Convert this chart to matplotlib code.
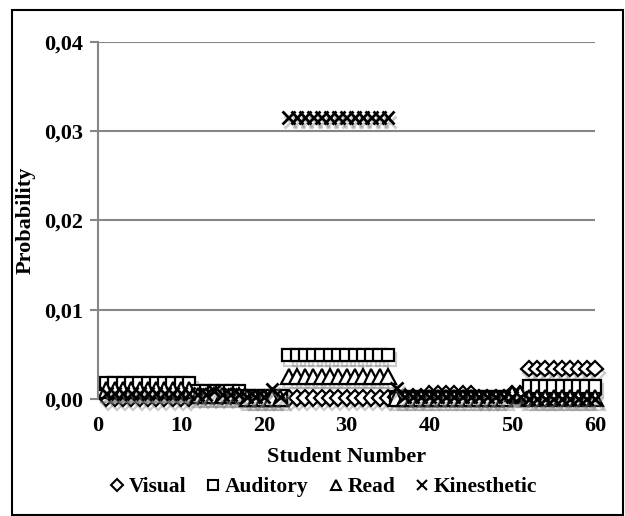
import matplotlib
matplotlib.use("Agg")
import matplotlib.pyplot as plt
import matplotlib.patheffects as pe
from matplotlib.ticker import FuncFormatter, MultipleLocator
from matplotlib.patches import Rectangle

students = list(range(1, 61))

visual = ([0.0001] * 11 + [0.0003] * 6 + [0.0001] * 5 + [0.0001] * 13 +
          [0.0002] * 4 + [0.0006] * 6 + [0.0001] * 4 + [0.0006] * 2 + [0.0034] * 9)
auditory = ([0.0017] * 11 + [0.0008] * 6 + [0.0003] * 5 + [0.0049] * 13 +
            [0.0002] * 16 + [0.0014] * 9)
read = ([0.0010] * 11 + [0.0004] * 6 + [0.0001] * 5 + [0.0025] * 13 +
        [0.0001] * 14 + [0.0006] * 2 + [0.0001] * 9)
kinesthetic = ([0.0006] * 11 + [0.0005, 0.0005, 0.0009, 0.0005, 0.0005, 0.0005] +
               [0.0002, 0.0002, 0.0002, 0.0011, 0.0002] + [0.0315] * 13 +
               [0.0012] + [0.0002] * 15 + [0.0000] * 9)

series = [("Visual", visual, "D", 8.0),
          ("Auditory", auditory, "s", 9.0),
          ("Read", read, "^", 11.0),
          ("Kinesthetic", kinesthetic, "x", 9.0)]

plt.rcParams["font.family"] = ["Liberation Serif", "DejaVu Serif"]
plt.rcParams["font.weight"] = "bold"

fig = plt.figure(figsize=(6.25, 5.16), dpi=100)
ax = fig.add_axes([0.157, 0.227, 0.795, 0.692])

shadow = [pe.SimpleLineShadow(offset=(1.5, -3), shadow_color="gray", alpha=0.4),
          pe.Normal()]

for name, vals, m, ms in series:
    ax.plot(students, vals, linestyle="none", marker=m, markersize=ms,
            markerfacecolor="white", markeredgecolor="black",
            markeredgewidth=1.6 if m != "x" else 2.0, color="black",
            label=name, path_effects=shadow, clip_on=False)

ax.set_xlim(0, 60)
ax.set_ylim(0, 0.04)
ax.xaxis.set_major_locator(MultipleLocator(10))
ax.yaxis.set_major_locator(MultipleLocator(0.01))
ax.yaxis.set_major_formatter(FuncFormatter(lambda v, p: f"{v:.2f}".replace(".", ",")))
ax.grid(axis="y", color="#868686", linewidth=1.5)
ax.set_axisbelow(True)
for s in ["top", "right", "bottom"]:
    ax.spines[s].set_visible(False)
ax.spines["left"].set_color("#868686")
ax.spines["left"].set_linewidth(1.5)
ax.tick_params(axis="y", direction="out", length=6, width=1.5, color="#868686",
               labelsize=16, pad=5)
ax.tick_params(axis="x", length=0, labelsize=16, pad=12)
for lab in ax.get_xticklabels() + ax.get_yticklabels():
    lab.set_fontweight("bold")

ax.set_xlabel("Student Number", fontsize=16, fontweight="bold", labelpad=8)
ax.set_ylabel("Probability", fontsize=16, fontweight="bold")
ax.yaxis.set_label_coords(-0.125, 0.5)

handles, labels = ax.get_legend_handles_labels()
leg = fig.legend(handles, labels, loc="center", bbox_to_anchor=(0.515, 1 - 487 / 516),
                 ncol=4, frameon=False, handletextpad=0.05, columnspacing=0.75,
                 handlelength=1.0, prop={"weight": "bold", "size": 15.5})
for h in leg.legend_handles:
    h.set_path_effects([])
    h.set_markersize(6.5)
    h.set_markeredgewidth(1.5)

fig.patches.append(Rectangle((12 / 625, 1 / 516), 611 / 625, 505 / 516,
                             transform=fig.transFigure, fill=False,
                             edgecolor="black", linewidth=1.5))

fig.savefig("out.png", dpi=100)
